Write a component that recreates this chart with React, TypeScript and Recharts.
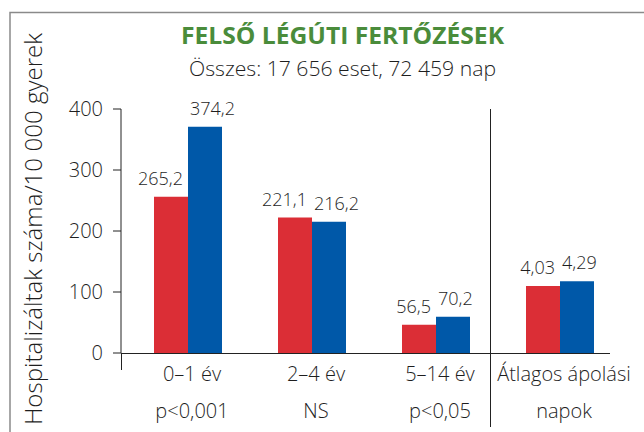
import { BarChart, Bar, XAxis, YAxis, LabelList } from "recharts";

// values (bar heights on the 0-400 axis) and printed labels
const categories = ["0–1 év", "2–4 év", "5–14 év", "Átlagos ápolási"];
const subLabels = ["p<0,001", "NS", "p<0,05", "napok"];
const redValues = [256, 222, 46.5, 110];
const blueValues = [371, 215, 59.5, 117.5];
const redLabels = ["265,2", "221,1", "56,5", "4,03"];
const blueLabels = ["374,2", "216,2", "70,2", "4,29"];
const yTicks = [0, 100, 200, 300, 400];

const RED = "#db2e36";
const BLUE = "#0058a8";
const TEXT = "#1e1e1e";
const FONT = "'Open Sans', 'Noto Sans', sans-serif";
const LIGHT = 300;

const data = categories.map((category, i) => ({
  category,
  sub: subLabels[i],
  red: redValues[i],
  blue: blueValues[i],
  redLabel: redLabels[i],
  blueLabel: blueLabels[i],
}));

function CategoryTick(props: any) {
  const { x, y, payload, index } = props;
  return (
    <g>
      <text x={x + 4} y={y + 28} textAnchor="middle" fill={TEXT} fontSize={20} fontWeight={LIGHT} fontFamily={FONT}>
        {payload.value}
      </text>
      <text x={x + 4} y={y + 65} textAnchor="middle" fill={TEXT} fontSize={20} fontWeight={LIGHT} fontFamily={FONT}>
        {subLabels[index]}
      </text>
    </g>
  );
}

function RedLabel(props: any) {
  const { x, y, width, value } = props;
  return (
    <text x={x + width - 5} y={y - 12} textAnchor="end" fill={TEXT} fontSize={18} fontWeight={LIGHT} fontFamily={FONT}>
      {value}
    </text>
  );
}

function BlueLabel(props: any) {
  const { x, y, value } = props;
  return (
    <text x={x + 2} y={y - 12} textAnchor="start" fill={TEXT} fontSize={18} fontWeight={LIGHT} fontFamily={FONT}>
      {value}
    </text>
  );
}

export default function App() {
  return (
    <div style={{ position: "absolute", left: 0, top: 0, width: 644, height: 432, background: "#fff" }}>
      <BarChart
        width={644}
        height={432}
        data={data}
        margin={{ top: 109, right: 22, bottom: 0, left: 0 }}
        barSize={34}
        barGap={0}
      >
        <XAxis
          dataKey="category"
          axisLine={false}
          tickLine={false}
          tickSize={0}
          tickMargin={0}
          height={79}
          padding={{ left: 5, right: 0 }}
          interval={0}
          tick={<CategoryTick />}
        />
        <YAxis
          domain={[0, 400]}
          ticks={yTicks}
          width={121}
          tickSize={8}
          tickMargin={10}
          axisLine={{ stroke: "#222" }}
          tickLine={{ stroke: "#222" }}
          tick={{ fill: TEXT, fontSize: 20, fontWeight: LIGHT, fontFamily: FONT }}
        />
        <Bar dataKey="red" fill={RED} isAnimationActive={false}>
          <LabelList dataKey="redLabel" content={<RedLabel />} />
        </Bar>
        <Bar dataKey="blue" fill={BLUE} isAnimationActive={false}>
          <LabelList dataKey="blueLabel" content={<BlueLabel />} />
        </Bar>
      </BarChart>

      <svg
        width={644}
        height={432}
        style={{ position: "absolute", left: 0, top: 0, pointerEvents: "none" }}
      >
        {/* frame */}
        <polyline points="10,432 10,12.5 644,12.5" fill="none" stroke="#8a8a8a" strokeWidth={1.5} />
        {/* axis lines */}
        <line x1={121} y1={353.5} x2={610} y2={353.5} stroke="#222" />
        <line x1={121.5} y1={353} x2={121.5} y2={370} stroke="#222" />
        <line x1={490.5} y1={109} x2={490.5} y2={427} stroke="#222" />

        <text
          x={342.5}
          y={44}
          textAnchor="middle"
          fill="#4a8c3b"
          fontSize={23}
          fontWeight="bold"
          fontFamily="'Liberation Sans Narrow', 'Open Sans', sans-serif"
          textLength={323}
          lengthAdjust="spacingAndGlyphs"
        >
          FELSŐ LÉGÚTI FERTŐZÉSEK
        </text>
        <text
          x={342.5}
          y={76}
          textAnchor="middle"
          fill={TEXT}
          fontSize={20}
          fontWeight={LIGHT}
          fontFamily={FONT}
          textLength={307}
          lengthAdjust="spacingAndGlyphs"
        >
          Összes: 17 656 eset, 72 459 nap
        </text>
        <text
          transform="rotate(-90)"
          x={-229}
          y={42}
          textAnchor="middle"
          fill={TEXT}
          fontSize={23}
          fontWeight={LIGHT}
          fontFamily={FONT}
          textLength={392}
          lengthAdjust="spacingAndGlyphs"
        >
          Hospitalizáltak száma/10 000 gyerek
        </text>
      </svg>
    </div>
  );
}
